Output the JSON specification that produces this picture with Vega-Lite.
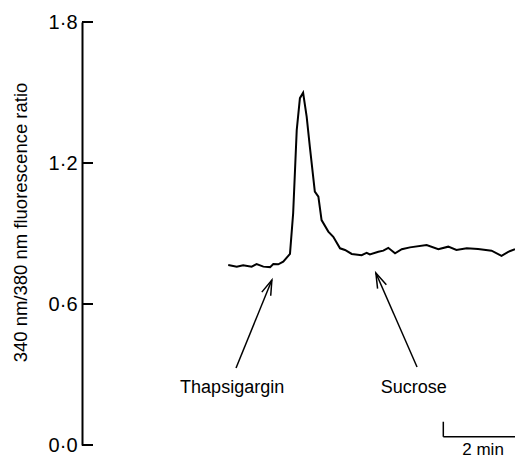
{
  "$schema": "https://vega.github.io/schema/vega-lite/v6.json",
  "width": 433,
  "height": 423,
  "autosize": {"type": "none"},
  "padding": {"left": 82, "top": 22, "right": 0, "bottom": 14},
  "background": "white",
  "config": {
    "view": {"stroke": null},
    "font": "Liberation Sans"
  },
  "datasets": {
    "trace": [
      {"t": 4.12, "v": 0.766}, {"t": 4.36, "v": 0.759}, {"t": 4.54, "v": 0.765}, {"t": 4.78, "v": 0.759},
      {"t": 4.92, "v": 0.770}, {"t": 5.11, "v": 0.759}, {"t": 5.30, "v": 0.757}, {"t": 5.39, "v": 0.770},
      {"t": 5.53, "v": 0.769}, {"t": 5.67, "v": 0.780}, {"t": 5.86, "v": 0.813}, {"t": 5.95, "v": 0.987},
      {"t": 6.05, "v": 1.340}, {"t": 6.14, "v": 1.476}, {"t": 6.23, "v": 1.499}, {"t": 6.33, "v": 1.397},
      {"t": 6.42, "v": 1.269}, {"t": 6.56, "v": 1.078}, {"t": 6.66, "v": 1.057}, {"t": 6.75, "v": 0.957},
      {"t": 6.94, "v": 0.908}, {"t": 7.08, "v": 0.886}, {"t": 7.27, "v": 0.837}, {"t": 7.41, "v": 0.830},
      {"t": 7.60, "v": 0.813}, {"t": 7.88, "v": 0.808}, {"t": 8.02, "v": 0.818}, {"t": 8.11, "v": 0.811},
      {"t": 8.35, "v": 0.822}, {"t": 8.49, "v": 0.827}, {"t": 8.63, "v": 0.839}, {"t": 8.82, "v": 0.816},
      {"t": 9.01, "v": 0.833}, {"t": 9.24, "v": 0.841}, {"t": 9.71, "v": 0.851}, {"t": 10.04, "v": 0.833},
      {"t": 10.32, "v": 0.844}, {"t": 10.55, "v": 0.830}, {"t": 10.84, "v": 0.837}, {"t": 11.16, "v": 0.834},
      {"t": 11.54, "v": 0.827}, {"t": 11.82, "v": 0.805}, {"t": 12.01, "v": 0.822}, {"t": 12.20, "v": 0.833}
    ],
    "ticks": [
      {"t": 0, "t2": 0.31, "v": 0}, {"t": 0, "t2": 0.31, "v": 0.6},
      {"t": 0, "t2": 0.31, "v": 1.2}, {"t": 0, "t2": 0.31, "v": 1.8}
    ],
    "shafts": [
      {"t": 4.34, "v": 0.328, "t2": 5.35, "v2": 0.702},
      {"t": 9.44, "v": 0.332, "t2": 8.28, "v2": 0.732}
    ],
    "headThaps": [{"t": 5.35, "v": 0.702}],
    "headSucrose": [{"t": 8.28, "v": 0.732}],
    "labels": [
      {"t": 4.23, "v": 0.243, "label": "Thapsigargin"},
      {"t": 9.35, "v": 0.243, "label": "Sucrose"}
    ],
    "scaleLabel": [
      {"t": 11.3, "v": -0.021, "label": "2 min"}
    ],
    "scalebar": [
      {"t": 10.18, "v": 0.035, "t2": 12.2, "v2": 0.035},
      {"t": 10.18, "v": 0.035, "t2": 10.18, "v2": 0.099}
    ]
  },
  "encoding": {
    "x": {"field": "t", "type": "quantitative", "scale": {"domain": [0, 12.2], "nice": false, "zero": false}, "axis": null},
    "y": {
      "field": "v", "type": "quantitative",
      "scale": {"domain": [0, 1.8], "nice": false},
      "axis": {
        "title": "340 nm/380 nm fluorescence ratio",
        "values": [0, 0.6, 1.2, 1.8],
        "labelExpr": "replace(format(datum.value, '.1f'), '.', '·')",
        "grid": false,
        "ticks": false,
        "domainColor": "black",
        "domainWidth": 2,
        "labelColor": "black",
        "labelFontSize": 20,
        "labelPadding": 5,
        "labelFont": "Liberation Sans",
        "titleFont": "Liberation Sans",
        "titleFontSize": 18.5,
        "titleFontWeight": "normal",
        "titleColor": "black",
        "titleX": -62,
        "titleY": 200,
        "titleAlign": "center",
        "titleBaseline": "middle",
        "titleAngle": 270
      }
    }
  },
  "layer": [
    {
      "data": {"name": "trace"},
      "mark": {"type": "line", "color": "black", "strokeWidth": 2}
    },
    {
      "data": {"name": "ticks"},
      "mark": {"type": "rule", "color": "black", "strokeWidth": 2},
      "encoding": {"x2": {"field": "t2"}}
    },
    {
      "data": {"name": "shafts"},
      "mark": {"type": "rule", "color": "black", "strokeWidth": 1.5},
      "encoding": {"x2": {"field": "t2"}, "y2": {"field": "v2"}}
    },
    {
      "data": {"name": "headThaps"},
      "mark": {"type": "point", "shape": "M -0.32 1 L 0 0 L 0.32 1", "filled": false, "color": "black", "strokeWidth": 1.5, "size": 900, "angle": 22, "opacity": 1}
    },
    {
      "data": {"name": "headSucrose"},
      "mark": {"type": "point", "shape": "M -0.32 1 L 0 0 L 0.32 1", "filled": false, "color": "black", "strokeWidth": 1.5, "size": 900, "angle": 336, "opacity": 1}
    },
    {
      "data": {"name": "labels"},
      "mark": {"type": "text", "color": "black", "fontSize": 18, "align": "center", "baseline": "middle", "font": "Liberation Sans"},
      "encoding": {"text": {"field": "label"}}
    },
    {
      "data": {"name": "scaleLabel"},
      "mark": {"type": "text", "color": "black", "fontSize": 17, "align": "center", "baseline": "middle", "font": "Liberation Sans"},
      "encoding": {"text": {"field": "label"}}
    },
    {
      "data": {"name": "scalebar"},
      "mark": {"type": "rule", "color": "black", "strokeWidth": 1.5},
      "encoding": {"x2": {"field": "t2"}, "y2": {"field": "v2"}}
    }
  ]
}
